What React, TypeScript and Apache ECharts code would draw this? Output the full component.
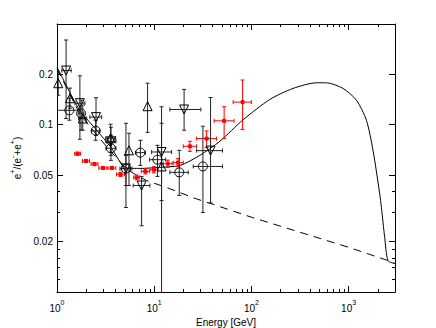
import React, { useEffect, useRef } from "react";
import * as echarts from "echarts";

// ---- axes ----
const xRange = [1, 3000];
const yRange = [0.01, 0.4];
const xMajorExponents = [0, 1, 2, 3];
const xMinorTickValues = [2, 3, 4, 5, 6, 7, 8, 9, 20, 30, 40, 50, 60, 70, 80, 90, 200, 300, 400, 500, 600, 700, 800, 900, 2000];
const yTickLabels = [0.02, 0.05, 0.1, 0.2];
const yMinorTickValues = [0.012, 0.014, 0.016, 0.018, 0.03, 0.04];

// ---- model curve (solid) ----
const modelE = [1, 1.53, 1.77, 2.56, 3.59, 5.12, 7.13, 11.4, 18.4, 29.5, 47.3, 82.2, 154.6, 268, 467, 591, 876, 1203, 1524, 1782, 2088, 2173, 2350, 2541, 2980];
const modelFrac = [0.221, 0.1364, 0.1188, 0.0927, 0.0733, 0.0552, 0.0548, 0.0556, 0.0571, 0.0656, 0.0796, 0.1071, 0.1416, 0.1648, 0.1781, 0.1781, 0.1648, 0.1402, 0.1064, 0.0703, 0.0387, 0.0321, 0.0212, 0.0154, 0.0148];

// ---- secondary background (dashed) ----
const bgE = [1, 1.53, 1.77, 2.56, 3.59, 5.12, 6.5, 8.35, 14.5, 27.3, 40.4, 100, 1000, 2446, 2980];
const bgFrac = [0.216, 0.132, 0.113, 0.087, 0.069, 0.055, 0.05, 0.0464, 0.0414, 0.036, 0.0334, 0.028, 0.0185, 0.01553, 0.0148];

// ---- red squares ----
const redE = [1.63, 1.99, 2.43, 2.97, 3.67, 4.5, 6.6, 8.1, 9.93, 13.8, 17.5, 23.3, 34.6, 52.4, 81.1];
const redFrac = [0.0671, 0.0607, 0.0582, 0.0551, 0.0551, 0.0505, 0.0484, 0.0526, 0.0538, 0.0585, 0.0593, 0.0743, 0.0826, 0.1055, 0.1365];
const redELo = [1.52, 1.83, 2.24, 2.7, 3.34, 4.1, 6.15, 7.37, 9.04, 12.4, 15.7, 19.9, 27.3, 41.4, 64.9];
const redEHi = [1.75, 2.16, 2.64, 3.26, 4.03, 4.95, 7.08, 8.9, 10.9, 15.3, 19.9, 27.3, 43.8, 66.4, 100];
const redFracLo = [0.0657, 0.0595, 0.057, 0.054, 0.054, 0.0491, 0.0468, 0.0508, 0.0516, 0.0557, 0.0561, 0.0693, 0.073, 0.0826, 0.0935];
const redFracHi = [0.0685, 0.062, 0.0594, 0.0563, 0.0563, 0.0519, 0.0501, 0.0544, 0.0561, 0.0614, 0.0627, 0.0796, 0.0918, 0.128, 0.185];

// ---- open circles ----
const circE = [1.34, 1.77, 2.5, 3.59, 5.12, 7.21, 10.8, 18.1, 31.7];
const circFrac = [0.122, 0.1167, 0.092, 0.0723, 0.0546, 0.0681, 0.0618, 0.0519, 0.0563];
const circELo = [1.0, 1.65, 2.27, 3.19, 4.44, 6.41, 8.97, 14.5, 25.2];
const circEHi = [1.72, 1.89, 2.75, 4.04, 5.9, 8.12, 13.1, 22.4, 50.5];
const circFracLo = [0.1064, 0.0927, 0.0807, 0.0612, 0.0433, 0.0571, 0.0491, 0.0378, 0.0299];
const circFracHi = [0.1441, 0.14, 0.1064, 0.0865, 0.0656, 0.0807, 0.0753, 0.0703, 0.0979];

// ---- up triangles ----
const triUpE = [1.03, 1.36, 1.84, 3.56, 5.5, 8.55, 11.9];
const triUpFrac = [0.177, 0.144, 0.109, 0.083, 0.0703, 0.129, 0.0563];
const triUpELo = [1.03, 1.36, 1.67, 3.17, 5.5, 8.55, 11.9];
const triUpEHi = [1.03, 1.36, 2.02, 4.01, 5.5, 8.55, 11.9];
const triUpFracLo = [0.15, 0.1256, 0.0927, 0.0684, 0.0433, 0.09, 0.005];
const triUpFracHi = [0.206, 0.1655, 0.131, 0.1007, 0.0889, 0.177, 0.128];

// ---- down triangles ----
const triDnE = [1.24, 1.72, 2.52, 3.59, 5.12, 7.42, 11.9, 20.3, 38.0];
const triDnFrac = [0.2108, 0.1345, 0.111, 0.0796, 0.0548, 0.0433, 0.0687, 0.1233, 0.07];
const triDnELo = [1.12, 1.53, 2.18, 3.19, 4.6, 6.08, 9.4, 14.5, 27.3];
const triDnEHi = [1.4, 1.94, 2.88, 4.04, 5.7, 9.03, 15.1, 30.2, 50.5];
const triDnFracLo = [0.109, 0.0818, 0.0865, 0.0656, 0.032, 0.0249, 0.0352, 0.0927, 0.0341];
const triDnFracHi = [0.321, 0.196, 0.145, 0.0966, 0.102, 0.0491, 0.102, 0.1626, 0.1455];

const FONT = "'Liberation Sans', Arial, Helvetica, sans-serif";
const L = Math.log10;

function pts(xs: number[], ys: number[]) {
  return xs.map((x, i) => [L(x), L(ys[i])]);
}
function errData(e: number[], f: number[], eLo: number[], eHi: number[], fLo: number[], fHi: number[]) {
  return e.map((v, i) => [L(v), L(f[i]), L(eLo[i]), L(eHi[i]), L(fLo[i]), L(fHi[i])]);
}

function errorSeries(data: number[][], color: string, cap: number) {
  return {
    type: "custom",
    xAxisIndex: 0,
    yAxisIndex: 0,
    clip: true,
    silent: true,
    z: 3,
    data,
    renderItem: (_p: any, api: any) => {
      const x = api.value(0), y = api.value(1);
      const xl = api.value(2), xh = api.value(3), yl = api.value(4), yh = api.value(5);
      const c = api.coord([x, y]);
      const style = { stroke: color, lineWidth: 1, fill: null };
      const children: any[] = [];
      const ln = (x1: number, y1: number, x2: number, y2: number) =>
        children.push({ type: "line", shape: { x1, y1, x2, y2 }, style });
      if (yl !== yh) {
        const a = api.coord([x, yl]);
        const b = api.coord([x, yh]);
        ln(c[0], a[1], c[0], b[1]);
        ln(c[0] - cap, a[1], c[0] + cap, a[1]);
        ln(c[0] - cap, b[1], c[0] + cap, b[1]);
      }
      if (xl !== xh) {
        const a = api.coord([xl, y]);
        const b = api.coord([xh, y]);
        ln(a[0], c[1], b[0], c[1]);
        ln(a[0], c[1] - cap, a[0], c[1] + cap);
        ln(b[0], c[1] - cap, b[0], c[1] + cap);
      }
      return { type: "group", children };
    },
  };
}

function scatterSeries(data: number[][], symbol: string, size: number, rotate: number, fill: string, stroke: string) {
  return {
    type: "scatter",
    xAxisIndex: 0,
    yAxisIndex: 0,
    silent: true,
    z: 4,
    symbol,
    symbolSize: size,
    symbolRotate: rotate,
    itemStyle: { color: fill, borderColor: stroke, borderWidth: 1, opacity: 1 },
    data,
  };
}

const xMin = L(xRange[0]);
const xMax = L(xRange[1]);
const yMin = L(yRange[0]);
const yMax = L(yRange[1]);

const lineStyleAxis = { color: "#000", width: 1 };

function makeX(position: string, ticks: number[], len: number, main: boolean) {
  return {
    type: "value",
    position,
    min: xMin,
    max: xMax,
    splitLine: { show: false },
    axisLine: { show: main, onZero: false, lineStyle: lineStyleAxis },
    axisTick: { show: true, inside: true, length: len, customValues: ticks, lineStyle: lineStyleAxis },
    axisLabel: { show: false },
  };
}
function makeY(position: string, ticks: number[], len: number, main: boolean) {
  return {
    type: "value",
    position,
    min: yMin,
    max: yMax,
    splitLine: { show: false },
    axisLine: { show: main, onZero: false, lineStyle: lineStyleAxis },
    axisTick: { show: true, inside: true, length: len, customValues: ticks, lineStyle: lineStyleAxis },
    axisLabel: { show: false },
  };
}

const xMajorTicks = xMajorExponents.slice();
const xMinorTicks = xMinorTickValues.map(L);
const yMajorTicks = yTickLabels.map(L);
const yMinorTicks = yMinorTickValues.map(L);

const supRich = {
  b: { fontSize: 10, fontFamily: FONT, color: "#000", lineHeight: 14, verticalAlign: "bottom" },
  s: { fontSize: 7, fontFamily: FONT, color: "#000", lineHeight: 8, verticalAlign: "top" },
};

const bottomX: any = makeX("bottom", xMajorTicks, 6, true);
bottomX.axisLabel = {
  show: true,
  customValues: xMajorTicks,
  margin: 7,
  formatter: (v: number) => `{b|10}{s|${Math.round(v)}}`,
  rich: supRich,
};
bottomX.name = "Energy [GeV]";
bottomX.nameLocation = "middle";
bottomX.nameGap = 17;
bottomX.nameTextStyle = { fontSize: 10, fontFamily: FONT, color: "#000" };

const leftY: any = makeY("left", yMajorTicks, 6, true);
leftY.axisLabel = {
  show: true,
  customValues: yMajorTicks,
  margin: 4,
  fontSize: 10,
  fontFamily: FONT,
  color: "#000",
  formatter: (v: number) => String(Number(Math.pow(10, v).toPrecision(2))),
};
leftY.name = "{b|e}{s|+}{b|/(e}{s|-}{b|+e}{s|+}{b|)}";
leftY.nameLocation = "middle";
leftY.nameGap = 24;
leftY.nameTextStyle = { fontFamily: FONT, color: "#000", rich: supRich };

const option: any = {
  animation: false,
  backgroundColor: "#fff",
  grid: { left: 57, right: 41, top: 24, bottom: 36, containLabel: false, outerBoundsMode: "none" },
  xAxis: [
    bottomX,
    makeX("bottom", xMinorTicks, 3, false),
    makeX("top", xMajorTicks, 6, true),
    makeX("top", xMinorTicks, 3, false),
  ],
  yAxis: [
    leftY,
    makeY("left", yMinorTicks, 3, false),
    makeY("right", yMajorTicks, 6, true),
    makeY("right", yMinorTicks, 3, false),
  ],
  series: [
    {
      type: "line",
      xAxisIndex: 0,
      yAxisIndex: 0,
      data: pts(bgE, bgFrac),
      showSymbol: false,
      silent: true,
      z: 2,
      lineStyle: { color: "#000", width: 1, type: [8, 6] },
    },
    {
      type: "line",
      xAxisIndex: 0,
      yAxisIndex: 0,
      data: pts(modelE, modelFrac),
      showSymbol: false,
      silent: true,
      smooth: 0.25,
      z: 2,
      lineStyle: { color: "#000", width: 1 },
    },
    errorSeries(errData(redE, redFrac, redELo, redEHi, redFracLo, redFracHi), "#ff0000", 2),
    errorSeries(errData(circE, circFrac, circELo, circEHi, circFracLo, circFracHi), "#222", 2),
    errorSeries(errData(triUpE, triUpFrac, triUpELo, triUpEHi, triUpFracLo, triUpFracHi), "#222", 2),
    errorSeries(errData(triDnE, triDnFrac, triDnELo, triDnEHi, triDnFracLo, triDnFracHi), "#222", 2),
    scatterSeries(pts(redE, redFrac), "rect", 3, 0, "#ff0000", "#ff0000"),
    scatterSeries(pts(circE, circFrac), "circle", 9, 0, "rgba(0,0,0,0)", "#000"),
    scatterSeries(pts(triUpE, triUpFrac), "triangle", 9, 0, "rgba(0,0,0,0)", "#000"),
    scatterSeries(pts(triDnE, triDnFrac), "triangle", 9, 180, "rgba(0,0,0,0)", "#000"),
  ],
};

export default function App() {
  const ref = useRef<HTMLDivElement>(null);
  useEffect(() => {
    const chart = echarts.init(ref.current as HTMLDivElement, null, { renderer: "svg" });
    chart.setOption(option);
    return () => chart.dispose();
  }, []);
  return (
    <div
      ref={ref}
      style={{ position: "fixed", left: 0, top: 0, width: 436, height: 328, background: "#fff" }}
    />
  );
}
